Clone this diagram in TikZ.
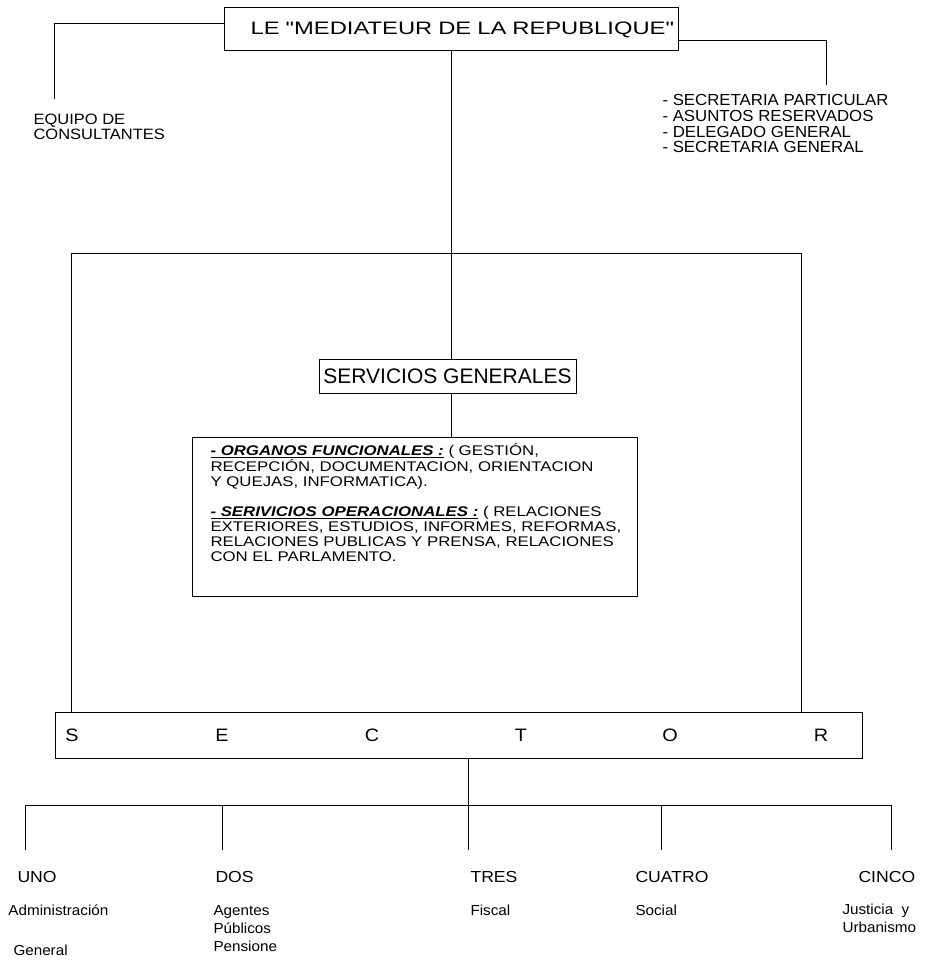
\documentclass[tikz,border=0pt]{standalone}
\usepackage{fontspec}
\setmainfont{Liberation Sans}
\newfontfamily\ftitle[FakeStretch=1.32]{Liberation Sans}
\newfontfamily\fwide[FakeStretch=1.1]{Liberation Sans}
\newfontfamily\finner[FakeStretch=1.2]{Liberation Sans}
\newfontfamily\flist[FakeStretch=1.05]{Liberation Sans}
\begin{document}
\begin{tikzpicture}[x=1pt,y=-1pt,line width=1pt,
  every node/.style={inner sep=0pt},
  box/.style={draw,line width=1pt},
  lbl/.style={anchor=north west,align=left,inner sep=0pt},
  capslbl/.style={anchor=west,font=\fwide\fontsize{16}{18}\selectfont},
  lowlbl/.style={anchor=base west,font=\flist\fontsize{14.5}{18}\selectfont},
  letter/.style={font=\fwide\fontsize{18}{18}\selectfont}]
\useasboundingbox (0,0) rectangle (929,963);

% top box
\node[box,minimum width=454pt,minimum height=43pt,text width=446pt,align=right,inner xsep=4pt,
      font=\ftitle\fontsize{18}{20}\selectfont] (med) at (451,29.5) {LE "MEDIATEUR DE LA REPUBLIQUE"};

\node[lbl,font=\fwide\fontsize{15}{15}\selectfont] (equipo) at (33,113.5) {EQUIPO DE\\CONSULTANTES};
\node[lbl,font=\flist\fontsize{16}{15.7}\selectfont] (secr) at (662,94)
  {- SECRETARIA PARTICULAR\\- ASUNTOS RESERVADOS\\- DELEGADO GENERAL\\- SECRETARIA GENERAL};

\coordinate (eqtop) at (54,99);
\coordinate (sectop) at (826,85);
\draw ([yshift=5.5pt]med.west) -| (eqtop);
\draw ([yshift=-11.5pt]med.east) -| (sectop);

% servicios generales
\node[box,minimum width=257pt,minimum height=34pt,font=\fontsize{21}{21}\selectfont] (serv) at (447.5,376) {SERVICIOS GENERALES};
\draw (med.south) -- (med.south |- serv.north);

% inner box
\node[box,anchor=north west,minimum width=445pt,minimum height=159pt] (inner) at (192,437) {};
\node[lbl,font=\finner\fontsize{14}{15}\selectfont] (innertxt) at (210,443)
  {\textbf{\textit{\underline{- ORGANOS FUNCIONALES :}}} ( GESTIÓN,\\
   RECEPCIÓN, DOCUMENTACION, ORIENTACION\\
   Y QUEJAS, INFORMATICA).\\[15pt]
   \textbf{\textit{\underline{- SERIVICIOS OPERACIONALES :}}} ( RELACIONES\\
   EXTERIORES, ESTUDIOS, INFORMES, REFORMAS,\\
   RELACIONES PUBLICAS Y PRENSA, RELACIONES\\
   CON EL PARLAMENTO.};
\draw (serv.south -| med.south) -- (inner.north -| med.south);

% sector box
\node[box,minimum width=807pt,minimum height=46pt] (sector) at (458.5,735) {};
\node[letter] (ls) at (72,735) {S};
\node[letter] (le) at (222,735) {E};
\node[letter] (lc) at (372,735) {C};
\node[letter] (lt) at (521,735) {T};
\node[letter] (lo) at (670,735) {O};
\node[letter] (lr) at (821,735) {R};

\coordinate (bbl) at (71,253);
\coordinate (bbr) at (801,253);
\draw (sector.north -| bbl) -- (bbl) -- (bbr) -- (sector.north -| bbr);

% bottom bus
\coordinate (bus) at (468,805);
\coordinate (d1) at (25,850);
\coordinate (d2) at (222,850);
\coordinate (d3) at (468,850);
\coordinate (d4) at (661,850);
\coordinate (d5) at (891,850);
\draw (sector.south -| bus) -- (d3);
\draw (d1) -- (d1 |- bus) -- (d5 |- bus) -- (d5);
\draw (d2 |- bus) -- (d2);
\draw (d4 |- bus) -- (d4);

\node[capslbl] (uno) at (17,877) {UNO};
\node[capslbl] (dos) at (215,877) {DOS};
\node[capslbl] (tres) at (470,877) {TRES};
\node[capslbl] (cuatro) at (635,877) {CUATRO};
\node[capslbl] (cinco) at (858,877) {CINCO};

\node[lowlbl] (adm) at (8,915) {Administración};
\node[lowlbl] (gen) at (13,955) {General};
\node[lbl,font=\flist\fontsize{14.5}{18}\selectfont] (agentes) at (213,905) {Agentes\\Públicos\\Pensione};
\node[lowlbl] (fiscal) at (470,915) {Fiscal};
\node[lowlbl] (social) at (635,915) {Social};
\node[lbl,font=\flist\fontsize{14.5}{18}\selectfont] (justicia) at (842,903) {Justicia\ \ y\\Urbanismo};
\end{tikzpicture}
\end{document}
